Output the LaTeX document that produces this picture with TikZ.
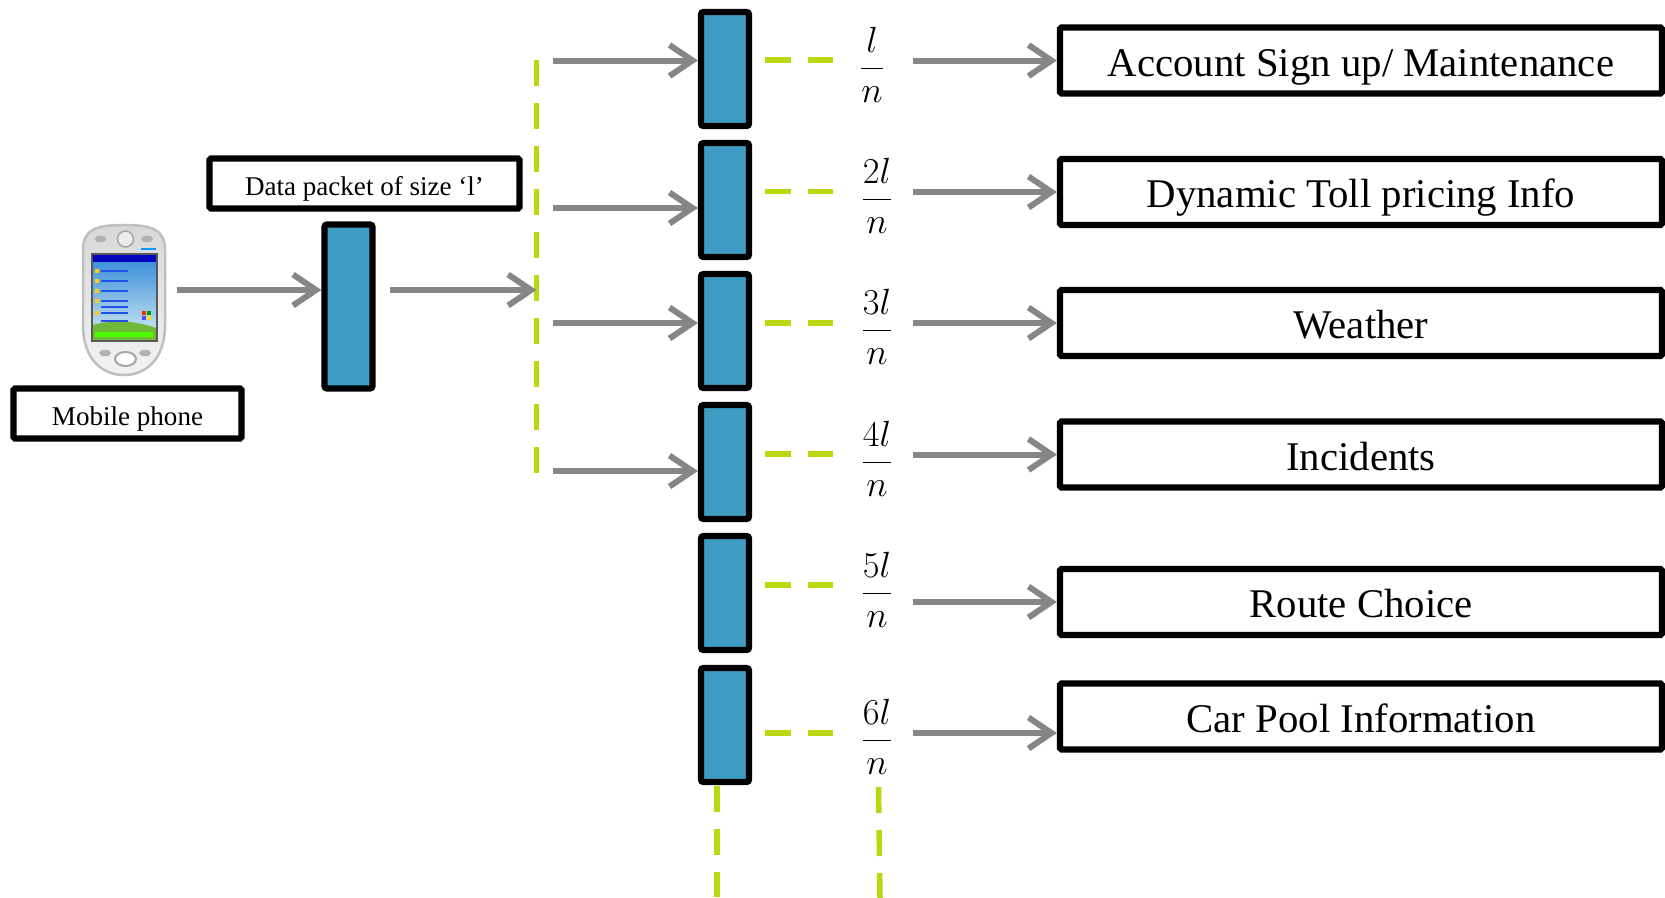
\documentclass[tikz,border=0pt]{standalone}
\usepackage{fontspec}
\setmainfont{Liberation Serif}
\usetikzlibrary{arrows.meta, shapes.geometric}
\definecolor{boxblue}{HTML}{3F9CC3}
\definecolor{dashgreen}{HTML}{BBD80F}
\definecolor{arrowgray}{HTML}{868686}
\definecolor{skytop}{HTML}{3F93DC}
\definecolor{skylow}{HTML}{C4E0EE}
\definecolor{hill}{HTML}{6FB838}
\begin{document}
\begin{tikzpicture}
  \tikzstyle{slice} = [rectangle, rounded corners = 0.5mm, draw, fill=boxblue, minimum height = 22.8mm, minimum width = 9.6mm, line width = 1.25mm]
  \tikzstyle{packet} = [rectangle, rounded corners = 0.5mm, draw, fill=boxblue, minimum height = 32.8mm, minimum width = 9.6mm, line width = 1.25mm]
  \tikzstyle{small_label} = [rectangle, rounded corners = 0.3mm, draw, fill=white, minimum height = 10mm, line width = 1.25mm, text height = 13.2pt, text depth = 0pt, font=\fontsize{15.4}{17}\selectfont]
  \tikzstyle{service} = [rectangle, rounded corners = 0.3mm, draw, fill=white, minimum height = 13.2mm, minimum width = 120.4mm, line width = 1.25mm, text height = 18pt, text depth = 0pt, font=\fontsize{23.2}{26}\selectfont]
  \tikzstyle{share} = [anchor=base, inner sep=0pt, font=\fontsize{20}{23}\selectfont]
  \tikzstyle{arrow} = [-{Straight Barb[length=4.6mm, width=6.2mm]}, color=arrowgray, line width = 1.2mm]
  \tikzstyle{dashline} = [color=dashgreen, line width = 1.1mm, dash pattern=on 5.2mm off 3.4mm]
  \tikzstyle{pkey} = [ellipse, fill=gray!60, minimum width = 2.4mm, minimum height = 1.3mm, inner sep=0pt]

  \useasboundingbox (0,0) rectangle (33.3,-17.94);

  \node [slice] at (14.5,-1.38) (slice1) {};
  \node [slice] at (14.5,-4.00) (slice2) {};
  \node [slice] at (14.5,-6.62) (slice3) {};
  \node [slice] at (14.5,-9.24) (slice4) {};
  \node [slice] at (14.5,-11.86) (slice5) {};
  \node [slice] at (14.5,-14.50) (slice6) {};
  \node [packet] at (6.97,-6.13) (whole) {};
  \node [small_label, minimum width = 62mm] at (7.29,-3.67) (packet_label) {Data packet of size ‘l’};
  \node [small_label, minimum width = 45.6mm] at (2.55,-8.27) (phone_label) {Mobile phone};

  \node [service] at (27.22,-1.21) (account) {Account Sign up/ Maintenance};
  \node [service] at (27.22,-3.84) (toll) {Dynamic Toll pricing Info};
  \node [service] at (27.22,-6.46) (weather) {Weather};
  \node [service] at (27.22,-9.09) (incidents) {Incidents};
  \node [service] at (27.22,-12.04) (route) {Route Choice};
  \node [service] at (27.22,-14.33) (pool) {Car Pool Information};

  \node [share] at (17.44,-1.55) (share1) {$\displaystyle\frac{l}{n}$};
  \node [share] at (17.54,-4.16) (share2) {$\displaystyle\frac{2l}{n}$};
  \node [share] at (17.54,-6.79) (share3) {$\displaystyle\frac{3l}{n}$};
  \node [share] at (17.54,-9.43) (share4) {$\displaystyle\frac{4l}{n}$};
  \node [share] at (17.54,-12.04) (share5) {$\displaystyle\frac{5l}{n}$};
  \node [share] at (17.54,-14.98) (share6) {$\displaystyle\frac{6l}{n}$};

  \coordinate (phone_out) at (3.54,-5.8);
  \coordinate (whole_out) at (7.8,-5.8);
  \coordinate (bus_top) at (10.73,-1.2);
  \coordinate (bus_end) at (10.73,-9.46);
  \coordinate (in1) at (11.06,-1.21);
  \coordinate (in2) at (11.06,-4.16);
  \coordinate (in3) at (11.06,-6.46);
  \coordinate (in4) at (11.06,-9.42);
  \coordinate (out1) at (18.26,-1.21);
  \coordinate (out2) at (18.26,-3.84);
  \coordinate (out3) at (18.26,-6.46);
  \coordinate (out4) at (18.26,-9.09);
  \coordinate (out5) at (18.26,-12.04);
  \coordinate (out6) at (18.26,-14.66);
  \coordinate (gap1) at (15.3,-1.2);
  \coordinate (gap2) at (15.3,-3.83);
  \coordinate (gap3) at (15.3,-6.46);
  \coordinate (gap4) at (15.3,-9.08);
  \coordinate (gap5) at (15.3,-11.7);
  \coordinate (gap6) at (15.3,-14.66);
  \coordinate (tail1) at (14.34,-15.72);
  \coordinate (tail2) at (17.57,-15.74);

  \draw[dashline] (bus_top) to (bus_end);
  \draw[dashline] (gap1) to ++(1.36,0);
  \draw[dashline] (gap2) to ++(1.36,0);
  \draw[dashline] (gap3) to ++(1.36,0);
  \draw[dashline] (gap4) to ++(1.36,0);
  \draw[dashline] (gap5) to ++(1.36,0);
  \draw[dashline] (gap6) to ++(1.36,0);
  \draw[dashline] (tail1) to ++(0,-2.22);
  \draw[dashline] (tail2) to ++(0.03,-2.22);

  \draw[arrow] (phone_out) to (phone_out -| whole.west);
  \draw[arrow] (whole_out) to (whole_out -| bus_end);
  \draw[arrow] (in1) to (in1 -| slice1.west);
  \draw[arrow] (in2) to (in2 -| slice2.west);
  \draw[arrow] (in3) to (in3 -| slice3.west);
  \draw[arrow] (in4) to (in4 -| slice4.west);
  \draw[arrow] (out1) to (out1 -| account.west);
  \draw[arrow] (out2) to (out2 -| toll.west);
  \draw[arrow] (out3) to (out3 -| weather.west);
  \draw[arrow] (out4) to (out4 -| incidents.west);
  \draw[arrow] (out5) to (out5 -| route.west);
  \draw[arrow] (out6) to (out6 -| pool.west);

  \draw[draw=gray!50, line width = 0.5mm, top color=gray!30, bottom color=gray!10] (1.66,-5.0) .. controls (1.66,-4.6) and (1.9,-4.5) .. (2.48,-4.5) .. controls (3.06,-4.5) and (3.30,-4.6) .. (3.30,-5.0) -- (3.30,-6.5) .. controls (3.30,-7.2) and (2.9,-7.5) .. (2.48,-7.5) .. controls (2.06,-7.5) and (1.66,-7.2) .. (1.66,-6.5) -- cycle;
  \shade[top color=skytop, bottom color=skylow] (1.85,-5.25) rectangle (3.13,-6.6);
  \fill[hill] (1.85,-6.82) -- (1.85,-6.5) .. controls (2.3,-6.38) and (2.7,-6.42) .. (3.13,-6.56) -- (3.13,-6.82) -- cycle;
  \fill[green!70!yellow] (1.9,-6.64) rectangle (3.06,-6.74);
  \fill[blue!75!black] (1.85,-5.08) rectangle (3.13,-5.24);
  \draw[draw=gray!70!black, line width = 0.4mm] (1.84,-5.08) rectangle (3.14,-6.82);
  \foreach \y in {-5.42,-5.62,-5.82,-6.02,-6.14,-6.26,-6.42}
    \draw[color=blue!45!skytop, line width = 0.25mm] (2.02,\y) to (2.55,\y);
  \foreach \y in {-5.42,-5.62,-5.82,-6.02,-6.26}
    \fill[yellow!70!orange] (1.9,\y-0.04) rectangle (1.98,\y+0.04);
  \fill[red!70!orange] (2.84,-6.22) rectangle (2.92,-6.3);
  \fill[green!60!black] (2.93,-6.22) rectangle (3.01,-6.3);
  \fill[blue!70] (2.84,-6.31) rectangle (2.92,-6.39);
  \fill[yellow!90!orange] (2.93,-6.31) rectangle (3.01,-6.39);
  \fill[blue!40!cyan] (2.82,-4.95) rectangle (3.12,-5.0);
  \node [pkey] at (2.01,-4.78) (key1) {};
  \node [pkey] at (2.94,-4.78) (key2) {};
  \node [pkey] at (2.1,-7.06) (key3) {};
  \node [pkey] at (2.9,-7.06) (key4) {};
  \node [circle, draw=gray!70, fill=gray!15, line width = 0.3mm, minimum size = 3.2mm, inner sep=0pt] at (2.51,-4.78) (joy_top) {};
  \node [ellipse, draw=gray!70, fill=white, line width = 0.4mm, minimum width = 4.2mm, minimum height = 2.8mm, inner sep=0pt] at (2.51,-7.18) (joy_bottom) {};
\end{tikzpicture}
\end{document}
